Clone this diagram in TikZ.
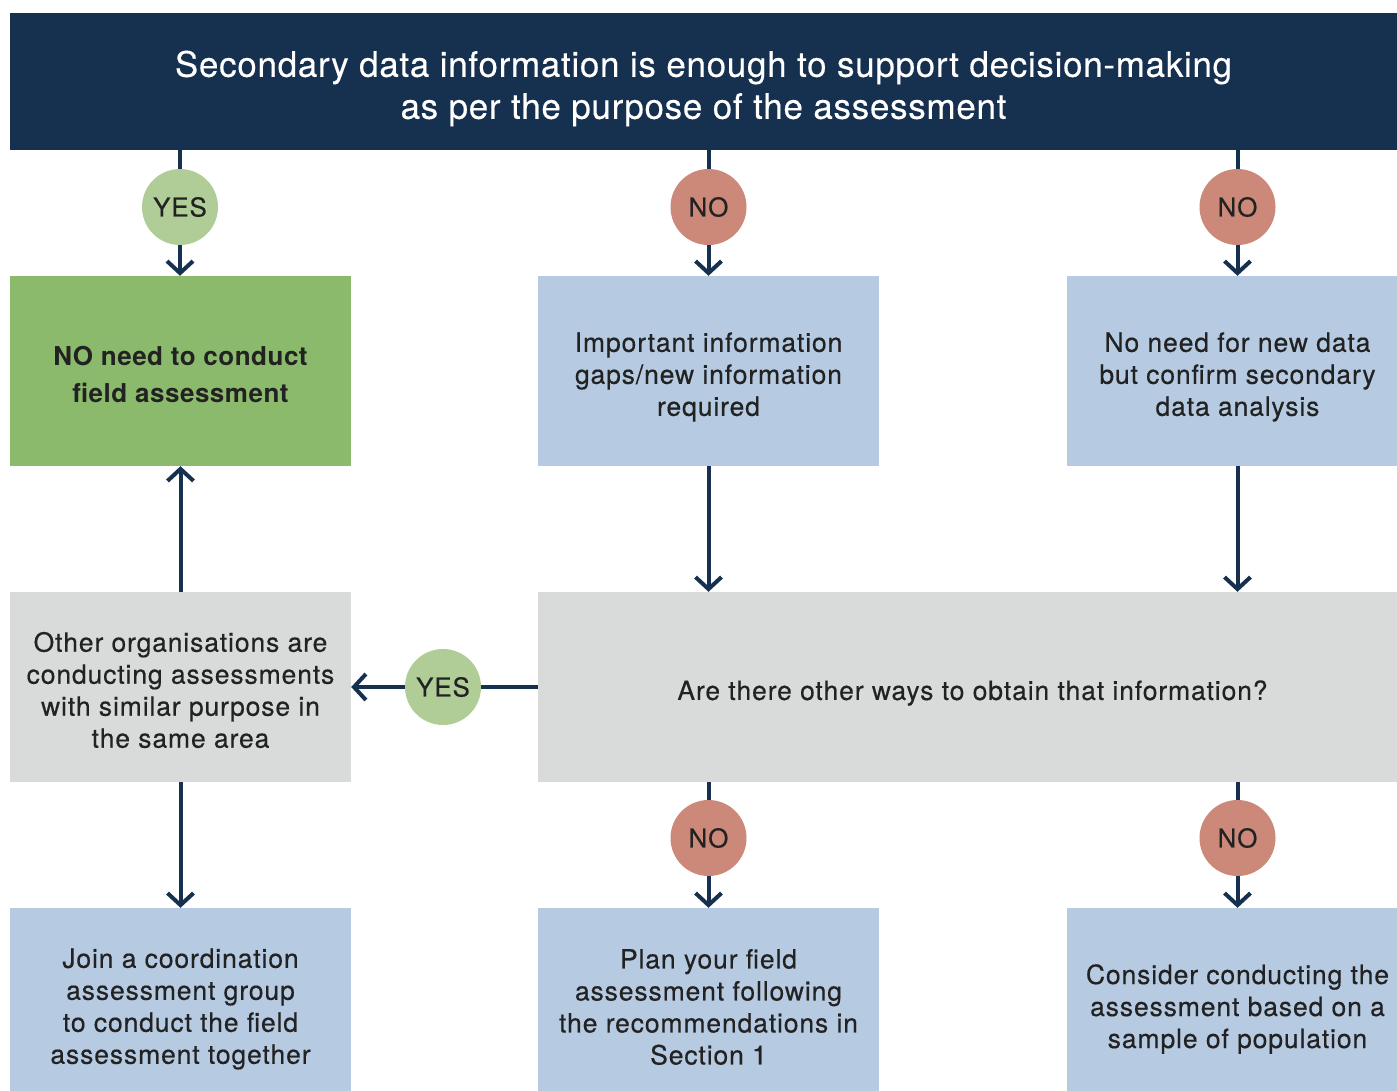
\documentclass[tikz,border=0pt]{standalone}
\usepackage{fontspec}
\setmainfont{TeX Gyre Heros}
\newfontfamily\boxfont[LetterSpace=3.3,FakeBold=0.4]{TeX Gyre Heros}
\newfontfamily\boldboxfont[LetterSpace=2]{TeX Gyre Heros Bold}
\newfontfamily\hdrfont[LetterSpace=2,FakeBold=0.3]{TeX Gyre Heros}
\usetikzlibrary{arrows.meta}
\definecolor{navy}{HTML}{16304F}
\definecolor{boxgreen}{HTML}{8CBA6C}
\definecolor{boxblue}{HTML}{B6CAE2}
\definecolor{boxgray}{HTML}{D9DBDB}
\definecolor{yesc}{HTML}{B0CD98}
\definecolor{noc}{HTML}{CC8878}
\definecolor{txt}{HTML}{222222}
\tikzset{
  box/.style={minimum width=341pt, minimum height=190pt, inner sep=0pt},
  bluebox/.style={box, fill=boxblue},
  graybox/.style={box, fill=boxgray},
  greenbox/.style={box, fill=boxgreen},
  hdr/.style={fill=navy, minimum width=1387pt, minimum height=137pt, inner sep=0pt},
  lbl/.style={inner sep=0pt, align=center, text=txt,
    font=\boxfont\fontsize{26.5}{32}\selectfont},
  boldlbl/.style={lbl, font=\boldboxfont\fontsize{26}{37}\selectfont},
  hdrlbl/.style={inner sep=0pt, align=center, text=white,
    font=\hdrfont\fontsize{35}{42}\selectfont},
  badge/.style={circle, minimum size=76pt, inner sep=0pt, text=txt,
    font=\boxfont\fontsize{26}{26}\selectfont},
  yesb/.style={badge, fill=yesc},
  nob/.style={badge, fill=noc},
  conn/.style={draw=navy, line width=4pt},
  arr/.style={conn, -{Straight Barb[length=12pt,width=26pt]}}
}
\begin{document}
\begin{tikzpicture}[x=1pt,y=-1pt]
\clip (0,0) rectangle (1397,1090);
\fill[white] (0,0) rectangle (1397,1090);

% header
\node[hdr] (top) at (703.5,81.5) {};
\node[hdrlbl] (toptext) at ([yshift=-7pt]top.center) {Secondary data information is enough to support decision-making\\as per the purpose of the assessment};

% row 2
\node[greenbox] (b1) at (180.5,371) {};
\node[boldlbl] (b1t) at ([yshift=-3pt]b1.center) {NO need to conduct\\field assessment};
\node[bluebox] (b2) at (708.5,371) {};
\node[lbl] (b2t) at ([yshift=-6pt]b2.center) {Important information\\gaps/new information\\required};
\node[bluebox] (b3) at (1237.5,371) {};
\node[lbl] (b3t) at ([yshift=-6pt]b3.center) {No need for new data\\but confirm secondary\\data analysis};

% row 3
\node[graybox] (c1) at (180.5,687) {};
\node[lbl] (c1t) at ([yshift=-3pt]c1.center) {Other organisations are\\conducting assessments\\with similar purpose in\\the same area};
\node[graybox, minimum width=869pt] (c2) at (972.5,687) {};
\node[lbl] (c2t) at ([yshift=-6pt]c2.center) {Are there other ways to obtain that information?};

% row 4
\node[bluebox, minimum height=198pt] (d1) at (180.5,1007) {};
\node[lbl] (d1t) at ([yshift=-2pt]d1.center) {Join a coordination\\assessment group\\to conduct the field\\assessment together};
\node[bluebox, minimum height=198pt] (d2) at (708.5,1007) {};
\node[lbl] (d2t) at ([yshift=0pt]d2.center) {Plan your field\\assessment following\\the recommendations in\\Section 1};
\node[bluebox, minimum height=198pt] (d3) at (1237.5,1007) {};
\node[lbl] (d3t) at ([yshift=-2pt]d3.center) {Consider conducting the\\assessment based on a\\sample of population};

% badges
\node[yesb] (y1) at (180,207) {YES};
\node[nob] (n1) at (708.5,207) {NO};
\node[nob] (n2) at (1237.5,207) {NO};
\node[yesb] (y2) at (443,687) {YES};
\node[nob] (n3) at (708.5,838) {NO};
\node[nob] (n4) at (1237.5,838) {NO};

% connectors
\draw[conn] (top.south -| y1) -- (y1.north);
\draw[arr] (y1.south) -- (b1.north -| y1);
\draw[conn] (top.south -| n1) -- (n1.north);
\draw[arr] (n1.south) -- (b2.north);
\draw[conn] (top.south -| n2) -- (n2.north);
\draw[arr] (n2.south) -- (b3.north);

\draw[arr] (b2.south) -- (b2.south |- c2.north);
\draw[arr] (b3.south) -- (b3.south |- c2.north);

\draw[arr] (c1.north) -- (b1.south);
\draw[arr] (c1.south) -- (d1.north);

\draw[conn] (c2.west) -- (y2.east);
\draw[arr] (y2.west) -- (c1.east);

\draw[conn] (c2.south -| n3) -- (n3.north);
\draw[arr] (n3.south) -- (d2.north);
\draw[conn] (c2.south -| n4) -- (n4.north);
\draw[arr] (n4.south) -- (d3.north);
\end{tikzpicture}
\end{document}
